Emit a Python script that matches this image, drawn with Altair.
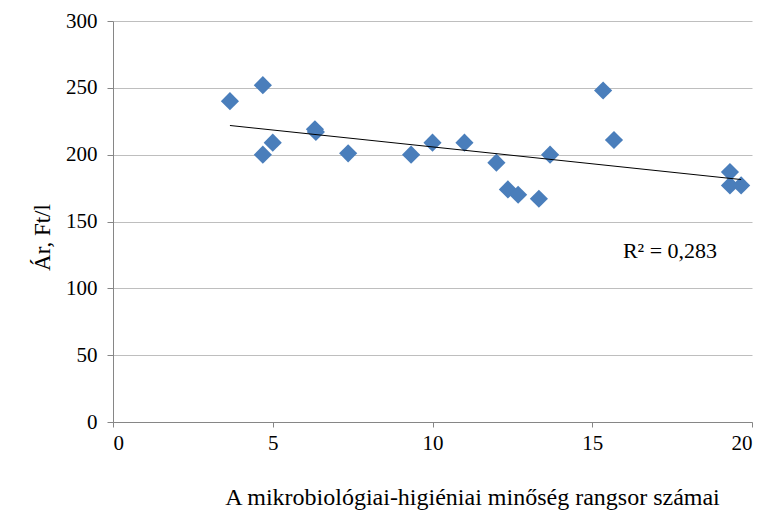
import altair as alt
import pandas as pd

rank = [3.66, 4.69, 4.69, 5.0, 6.32, 6.35, 7.36, 9.33, 10.0, 11.0, 12.0, 12.36,
        12.68, 13.33, 13.68, 15.34, 15.68, 19.31, 19.31, 19.66]
price = [240, 252, 200, 209, 219, 217, 201, 200, 209, 209, 194, 174,
         170, 167, 200, 248, 211, 187, 177, 177]

df = pd.DataFrame({"rank": rank, "price": price})
ann = pd.DataFrame({"x": [15.96], "y": [128], "t": ["R² = 0,283"]})

FONT = "Liberation Serif"

xscale = alt.Scale(domain=[0, 20], nice=False, zero=True)
yscale = alt.Scale(domain=[0, 300], nice=False)

base = alt.Chart(df)

points = base.mark_point(shape="diamond", filled=True, size=330, color="#4A7EBB", opacity=1).encode(
    x=alt.X("rank:Q", scale=xscale,
            axis=alt.Axis(title="A mikrobiológiai-higiéniai minőség rangsor számai",
                          values=[0, 5, 10, 15, 20], grid=False,
                          titleX=359, titleY=82, titleAlign="center", titleBaseline="alphabetic",
                          labelPadding=5, tickSize=5, titleFontSize=24)),
    y=alt.Y("price:Q", scale=yscale,
            axis=alt.Axis(title="Ár, Ft/l", values=[0, 50, 100, 150, 200, 250, 300],
                          titleX=-71, titleY=216, titleAlign="center", titleBaseline="middle",
                          titleAngle=270, labelPadding=10, tickSize=6)),
)

trend = base.transform_regression("rank", "price").mark_line(color="black", strokeWidth=1).encode(
    x=alt.X("rank:Q", scale=xscale),
    y=alt.Y("price:Q", scale=yscale),
)

text = alt.Chart(ann).mark_text(align="left", baseline="middle", font=FONT, fontSize=22, color="black").encode(
    x=alt.X("x:Q", scale=xscale),
    y=alt.Y("y:Q", scale=yscale),
    text="t:N",
)

chart = alt.layer(points, trend, text).properties(
    width=639, height=401,
    autosize=alt.AutoSizeParams(type="none"),
    padding={"left": 105, "top": 13, "right": 6, "bottom": 88},
).configure_view(stroke=None).configure_axis(
    labelFont=FONT, titleFont=FONT, labelFontSize=21, titleFontSize=23,
    titleFontWeight="normal", labelColor="black", titleColor="black",
    domainColor="#868686", tickColor="#868686", gridColor="#BEBEBE",
)

chart.save("out.html", embed_options={"renderer": "svg", "actions": False})
